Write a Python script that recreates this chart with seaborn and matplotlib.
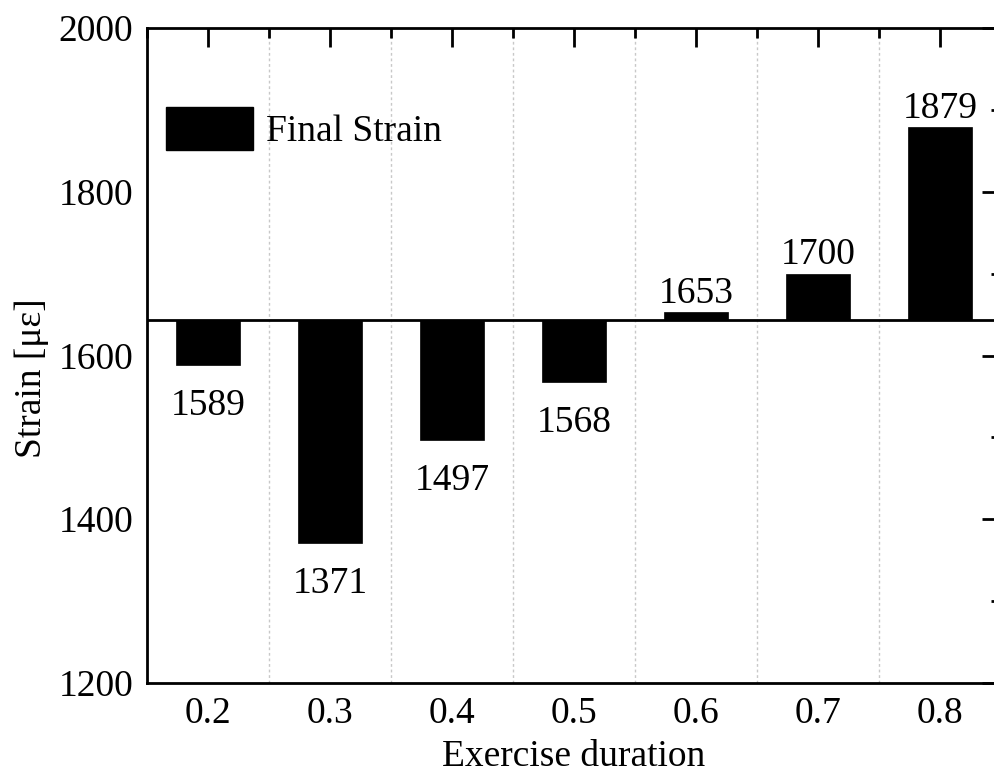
import matplotlib
matplotlib.use("Agg")
import matplotlib.pyplot as plt
import seaborn as sns
import pandas as pd
import numpy as np
from matplotlib.ticker import MultipleLocator, FixedLocator
from matplotlib.patches import Patch

categories = ["0.2", "0.3", "0.4", "0.5", "0.6", "0.7", "0.8"]
strain = [1589, 1371, 1497, 1568, 1653, 1700, 1879]
baseline = 1643
series_name = "Final Strain"

sns.set_theme(style="white")
plt.rcParams['font.family'] = ['Liberation Serif', 'DejaVu Serif']
plt.rcParams['text.color'] = 'black'
plt.rcParams['axes.labelcolor'] = 'black'
plt.rcParams['xtick.color'] = 'black'
plt.rcParams['ytick.color'] = 'black'

df = pd.DataFrame({"duration": categories,
                   "delta": [v - baseline for v in strain]})

fig = plt.figure(figsize=(9.95, 7.78), dpi=100)
ax = fig.add_axes([147/995, (778-683)/778, (1001-147)/995, (683-28)/778])

sns.barplot(data=df, x="duration", y="delta", color="black", width=0.52,
            bottom=baseline, ax=ax, saturation=1, edgecolor="black", linewidth=0.5)

ax.set_xlim(-0.5, 6.5)
ax.set_ylim(1200, 2000)
ax.axhline(baseline, color="black", lw=2, zorder=3)

fs = 27
for i, v in enumerate(strain):
    if v >= baseline:
        ax.annotate(str(v), (i, v), xytext=(0, 1), textcoords="offset points",
                    ha="center", va="bottom", fontsize=fs, color="black")
    else:
        ax.annotate(str(v), (i, v), xytext=(0, -17), textcoords="offset points",
                    ha="center", va="top", fontsize=fs, color="black")

ax.yaxis.set_major_locator(MultipleLocator(200))
ax.yaxis.set_minor_locator(MultipleLocator(100))
ax.xaxis.set_minor_locator(FixedLocator(np.arange(-0.5, 7, 1.0)))
ax.grid(False)
for xb in np.arange(0.5, 6.5, 1.0):
    ax.axvline(xb, color="#c8c8c8", lw=1, ls=(0, (2, 2)), zorder=0)

ax.tick_params(axis="both", which="major", direction="in", length=14, width=2,
               labelsize=fs, top=True, right=True, color="black", pad=10,
               labelcolor="black")
ax.tick_params(axis="both", which="minor", direction="in", length=7, width=2,
               top=True, right=True, color="black")
for s in ax.spines.values():
    s.set_linewidth(2)
    s.set_color("black")

ax.set_xlabel("Exercise duration", fontsize=fs, labelpad=6, color="black")
ax.set_ylabel("Strain [με]", fontsize=fs, labelpad=6.5, color="black")
ax.yaxis.label.set_y(0.466)

handle = Patch(facecolor="black", edgecolor="black")
ax.legend([handle], [series_name], loc="upper left", bbox_to_anchor=(-0.008, 0.92),
          frameon=False, fontsize=fs, handlelength=2.3, handleheight=1.4,
          handletextpad=0.35, borderaxespad=0.3, labelcolor="black")

fig.savefig("out.png", dpi=100)
